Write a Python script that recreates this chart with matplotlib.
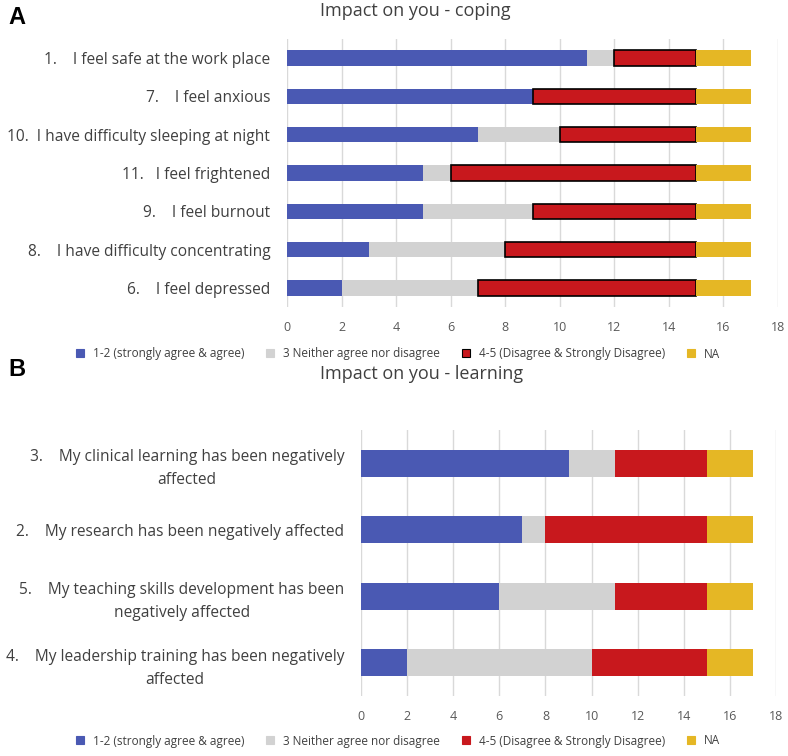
import matplotlib.pyplot as plt
from matplotlib.lines import Line2D

# Panel A - coping (top to bottom)
labels_a = ['1.    I feel safe at the work place', '7.    I feel anxious',
            '10.  I have difficulty sleeping at night', '11.   I feel frightened',
            '9.    I feel burnout', '8.    I have difficulty concentrating',
            '6.    I feel depressed']
agree_a = [11, 9, 7, 5, 5, 3, 2]
neutral_a = [1, 0, 3, 1, 4, 5, 5]
disagree_a = [3, 6, 5, 9, 6, 7, 8]
na_a = [2, 2, 2, 2, 2, 2, 2]

# Panel B - learning (top to bottom)
labels_b = ['3.    My clinical learning has been negatively\naffected',
            '2.    My research has been negatively affected',
            '5.    My teaching skills development has been\nnegatively affected',
            '4.    My leadership training has been negatively\naffected']
agree_b = [9, 7, 6, 2]
neutral_b = [2, 1, 5, 8]
disagree_b = [4, 7, 4, 5]
na_b = [2, 2, 2, 2]

legend_names = ['1-2 (strongly agree & agree)', '3 Neither agree nor disagree',
                '4-5 (Disagree & Strongly Disagree)', 'NA']
colors = ['#4a59b3', '#d2d2d2', '#c8181d', '#e5b725']
txt = '#404040'

plt.rcParams['font.family'] = ['Open Sans', 'DejaVu Sans']

fig = plt.figure(figsize=(7.88, 7.56), dpi=100)


def draw(ax, labels, series, bar_h, red_edge, lsize):
    n = len(labels)
    y = list(range(n))
    left = [0] * n
    for i, vals in enumerate(series):
        if i == 2 and red_edge:
            ax.barh(y, vals, left=left, height=bar_h, color=colors[i],
                    edgecolor='black', linewidth=1.2, zorder=3)
        else:
            ax.barh(y, vals, left=left, height=bar_h, color=colors[i],
                    linewidth=0, zorder=3)
        left = [a + b for a, b in zip(left, vals)]
    ax.set_ylim(n - 0.5, -0.5)
    ax.set_xlim(0, 18)
    ax.set_xticks(range(0, 19, 2))
    ax.set_yticks(y)
    ax.set_yticklabels(labels, fontsize=lsize, color=txt, multialignment='center',
                       linespacing=1.6)
    ax.tick_params(axis='both', length=0)
    ax.tick_params(axis='x', labelsize=9, labelcolor='#595959', pad=10)
    ax.tick_params(axis='y', pad=12)
    ax.grid(axis='x', color='#d9d9d9', linewidth=1, zorder=0)
    for s in ax.spines.values():
        s.set_visible(False)


def legend(red_edge, y):
    handles = []
    for i, c in enumerate(colors):
        ec = 'black' if (i == 2 and red_edge) else c
        handles.append(Line2D([], [], marker='s', linestyle='none', markersize=6,
                              markerfacecolor=c, markeredgecolor=ec, markeredgewidth=0.8))
    fig.legend(handles, legend_names, loc='center', bbox_to_anchor=(0.5, y), ncol=4,
               frameon=False, fontsize=8.5, labelcolor=txt, handletextpad=0.1,
               columnspacing=1.2)


ax1 = fig.add_axes([287 / 788, 1 - 307 / 756, 491 / 788, 268 / 756])
draw(ax1, labels_a, [agree_a, neutral_a, disagree_a, na_a], 0.4, True, 11.2)
fig.text(415 / 788, 1 - 11 / 756, 'Impact on you - coping', fontsize=13,
         color=txt, ha='center', va='center')
legend(True, 1 - 354 / 756)

ax2 = fig.add_axes([361 / 788, 1 - 696 / 756, 415 / 788, 266 / 756])
draw(ax2, labels_b, [agree_b, neutral_b, disagree_b, na_b], 0.4, False, 11.2)
fig.text(422 / 788, 1 - 374 / 756, 'Impact on you - learning', fontsize=13,
         color=txt, ha='center', va='center')
legend(False, 1 - 741 / 756)

fig.text(8 / 788, 1 - 18 / 756, 'A', fontsize=17, fontweight='bold',
         family='Liberation Sans', va='center')
fig.text(8 / 788, 1 - 370 / 756, 'B', fontsize=17, fontweight='bold',
         family='Liberation Sans', va='center')

fig.savefig('out.png', dpi=100)
